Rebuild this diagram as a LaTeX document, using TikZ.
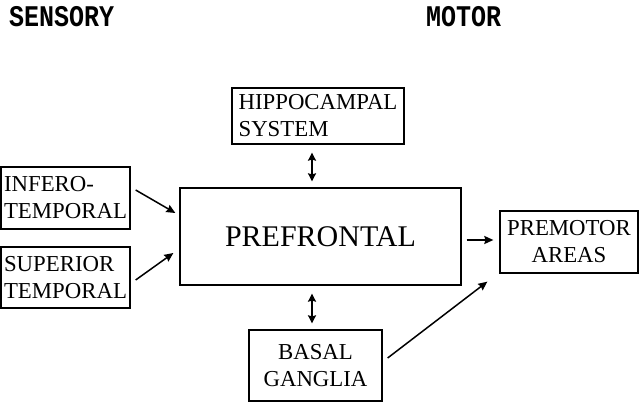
\documentclass[tikz,border=0pt]{standalone}
\usepackage{fontspec}
\setmainfont{Liberation Serif}
\newfontfamily\headfont{Liberation Mono}
\usetikzlibrary{arrows.meta, positioning, calc}

\begin{document}
\begin{tikzpicture}[
    x=1pt, y=-1pt,
    box/.style={draw=black, line width=1.3pt, inner sep=0pt, align=center,
                font=\fontsize{22.8}{27}\selectfont},
    lbox/.style={box, align=left},
    head/.style={font=\headfont\bfseries\fontsize{25}{25}\selectfont, anchor=base west, inner sep=0pt},
    fl/.style={-{Stealth[length=9pt, width=8pt, inset=1pt]}, line width=1.5pt},
    dfl/.style={{Stealth[length=8pt, width=8pt, inset=1pt]}-{Stealth[length=8pt, width=8pt, inset=1pt]}, line width=1.5pt}
  ]
    \useasboundingbox (0,0) rectangle (640,403);
    % ---- titles ----
    \node[head] (sens) at (9,27) {\scalebox{1}[1.2]{SENSORY}};
    \node[head] (mot) at (426,27) {\scalebox{1}[1.2]{MOTOR}};
    % ---- boxes ----
    \node[box, minimum width=281pt, minimum height=97pt,
          font=\fontsize{30}{33}\selectfont] (pref) at (320.5,236.5) {PREFRONTAL};
    \node[lbox, minimum width=172pt, minimum height=56pt] (hippo) at (318,116)
      {HIPPOCAMPAL\\SYSTEM};
    \node[lbox, minimum width=129pt, minimum height=62pt] (infero) at (65.5,198)
      {INFERO-\\TEMPORAL};
    \node[lbox, minimum width=129pt, minimum height=61pt] (sup) at (65.5,277.5)
      {SUPERIOR\\TEMPORAL};
    \node[box, minimum width=138pt, minimum height=62pt] (premot) at (569,242)
      {PREMOTOR\\AREAS};
    \node[box, minimum width=133pt, minimum height=71pt] (basal) at (315.5,365.5)
      {BASAL\\GANGLIA};
    % ---- arrows ----
    \draw[fl] ($(infero.east)+(5,-8)$) -- ($(pref.west)+(-4,-23.5)$);
    \draw[fl] ($(sup.east)+(5,2.5)$) -- ($(pref.west)+(-6,16.5)$);
    \draw[fl] ($(pref.east)+(5,3.5)$) -- ($(premot.west)+(-6,-2)$);
    \draw[fl] ($(basal.east)+(5,-7.5)$) -- ($(premot.south west)+(-12,8)$);
    \draw[dfl] ($(hippo.south)+(-6,8)$) -- ($(hippo.south |- pref.north)+(-6,-6)$);
    \draw[dfl] ($(basal.north |- pref.south)+(-3.5,8)$) -- ($(basal.north)+(-3.5,-6)$);
  \end{tikzpicture}
\end{document}
